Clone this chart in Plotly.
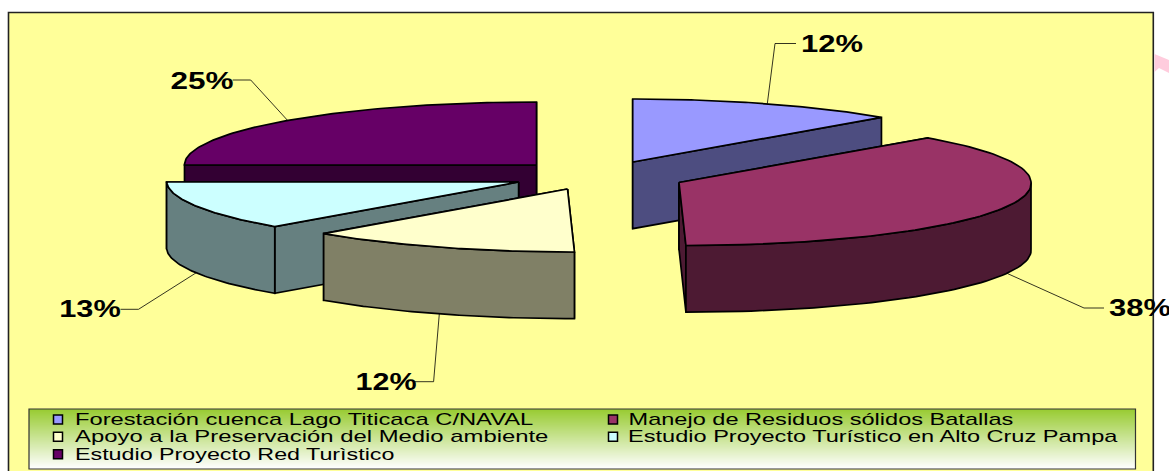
import numpy as np
import plotly.graph_objects as go
import json

# ---- data (percent shares; labels round to 12/38/12/13/25) ----
categories = ["Forestación cuenca Lago Titicaca C/NAVAL",
              "Manejo de Residuos sólidos Batallas",
              "Apoyo a la Preservación del Medio ambiente",
              "Estudio Proyecto Turístico en Alto Cruz Pampa",
              "Estudio Proyecto Red Turìstico"]
values = [12.49, 37.51, 12.49, 12.51, 25.0]

# ---- styling ----
top_colors = ["#9999FF", "#993366", "#FFFFCC", "#CCFFFF", "#660066"]
side_colors = ["#4D4D80", "#4D1A33", "#808066", "#668080", "#330033"]
centers = [(632.7, 162), (679, 182.5), (567.5, 189), (518.6, 182), (536.5, 165)]
elbows = [[(775, 43.5), (796, 43.5)], [(1084, 308), (1104, 308)], [(433.6, 381.7), (415, 381.7)],
          [(138.5, 309.3), (120.5, 309.3)], [(250.7, 80), (232.7, 80)]]
label_span = [(801, 863), (1109, 1171), (355, 416), (59, 120.5), (170, 233)]
label_y = [43.5, 308, 381.5, 308.5, 81]
RX, RY, DEPTH, SHEAR = 352, 63, 66.7, 0.11
draw_order = [4, 0, 3, 1, 2]
EDGE = "#000000"
BG = "#FFFF99"

fig = go.Figure()


def pt(c, deg):
    t = np.radians(deg)
    dy = -RY * np.cos(t)
    return c[0] + RX * np.sin(t) + SHEAR * np.maximum(dy, 0), c[1] + dy


def poly(xs, ys, color):
    fig.add_trace(go.Scatter(x=list(xs) + [xs[0]], y=list(ys) + [ys[0]], mode="lines", fill="toself",
                             fillcolor=color, line=dict(color=EDGE, width=1.7),
                             hoverinfo="skip", showlegend=False))


edges = np.concatenate([[0], np.cumsum(values)]) * 3.6
for i in draw_order:
    c = centers[i]
    a0, a1 = edges[i], edges[i + 1]
    for a in sorted((a0, a1), key=lambda d: pt(c, d)[1]):
        px, py = pt(c, a)
        poly([c[0], px, px, c[0]], [c[1], py, py + DEPTH, c[1] + DEPTH], side_colors[i])
    lo, hi = max(a0, 90), min(a1, 270)
    if hi > lo:
        ax, ay = pt(c, np.linspace(lo, hi, 60))
        poly(list(ax) + list(ax[::-1]), list(ay) + list(ay[::-1] + DEPTH), side_colors[i])
    ax, ay = pt(c, np.linspace(a0, a1, 90))
    poly([c[0]] + list(ax), [c[1]] + list(ay), top_colors[i])

# leader lines and percentage labels
annotations = []
stretch = []
for i in range(5):
    mid = (edges[i] + edges[i + 1]) / 2
    sx, sy = pt(centers[i], mid)
    if 90 < mid < 270:
        sy += DEPTH
    fig.add_trace(go.Scatter(x=[sx] + [p[0] for p in elbows[i]], y=[sy] + [p[1] for p in elbows[i]],
                             mode="lines", line=dict(color=EDGE, width=0.8),
                             hoverinfo="skip", showlegend=False))
    l, r = label_span[i]
    annotations.append(dict(x=(l + r) / 2, y=label_y[i], xref="x", yref="y", xanchor="center",
                            yanchor="middle", showarrow=False, text=f"{round(values[i])}%",
                            font=dict(family="Liberation Sans", size=23, color="#000000", weight=700)))
    stretch.append(r - l)

# legend block
leg_x = [58, 613, 58, 613, 58]
leg_y = [419.5, 419.5, 436.7, 436.7, 454.3]
leg_span = [(74.6, 533), (628.8, 1013.6), (74.6, 548), (628.8, 1118), (74.6, 394)]
for i, cat in enumerate(categories):
    fig.add_trace(go.Scatter(x=[leg_x[i]], y=[leg_y[i]], mode="markers",
                             marker=dict(symbol="square", size=9, color=top_colors[i],
                                         line=dict(color=EDGE, width=1.5)),
                             hoverinfo="skip", showlegend=False))
    l, r = leg_span[i]
    annotations.append(dict(x=(l + r) / 2, y=leg_y[i], xref="x", yref="y", xanchor="center",
                            yanchor="middle", showarrow=False, text=cat,
                            font=dict(family="Liberation Sans", size=17, color="#000000")))
    stretch.append(r - l)

shapes = [dict(type="rect", x0=8.5, y0=12.5, x1=1153.3, y1=480, fillcolor=BG,
               line=dict(color="#222222", width=1.6), layer="below"),
          dict(type="path", path="M 1154.5 54 L 1169 60 L 1169 73 L 1159 68 L 1154.5 72 Z", fillcolor="#FFCCDD",
               line=dict(width=0), layer="below")]
# vertical green-to-white gradient behind the legend
y_top, y_bot, n = 409, 469, 60
for k in range(n):
    f = k / (n - 1)
    r = int(153 + (255 - 153) * f)
    g = int(204 + (255 - 204) * f)
    b = int(51 + (255 - 51) * f)
    shapes.append(dict(type="rect", x0=29, x1=1135.5, y0=y_top + (y_bot - y_top) * k / n,
                       y1=y_top + (y_bot - y_top) * (k + 1) / n, fillcolor=f"rgb({r},{g},{b})",
                       line=dict(width=0), layer="below"))
shapes.append(dict(type="rect", x0=29, y0=y_top, x1=1135.5, y1=y_bot, line=dict(color="#333333", width=1.2),
                   layer="below"))

fig.update_layout(width=1169, height=471, margin=dict(l=0, r=0, t=0, b=0), paper_bgcolor="#FFFFFF",
                  plot_bgcolor="rgba(0,0,0,0)", showlegend=False, shapes=shapes, annotations=annotations,
                  xaxis=dict(range=[0, 1169], visible=False, fixedrange=True),
                  yaxis=dict(range=[471, 0], visible=False, fixedrange=True))
post = ("document.body.style.margin='0';document.body.style.overflow='hidden';"
        "var w=" + json.dumps(stretch) + ";"
        "document.querySelectorAll('.annotation-text').forEach(function(t,i){"
        "t.setAttribute('textLength',w[i]);t.setAttribute('lengthAdjust','spacingAndGlyphs');});")
fig.write_html("out.html", post_script=post, config={"displayModeBar": False})
